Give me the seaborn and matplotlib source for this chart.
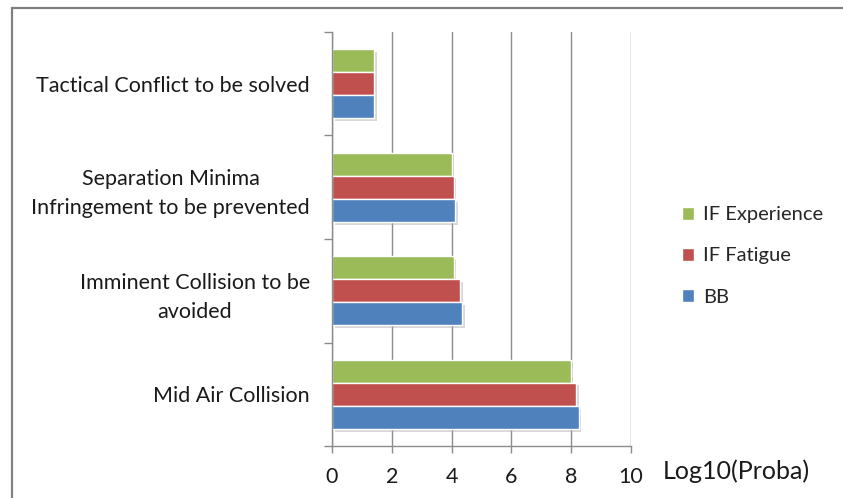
import matplotlib
matplotlib.use("Agg")
import matplotlib.pyplot as plt
import matplotlib.patheffects as pe
from matplotlib.patches import Rectangle
import seaborn as sns
import pandas as pd

categories = ["Tactical Conflict to be solved",
              "Separation Minima\nInfringement to be prevented",
              "Imminent Collision to be\navoided",
              "Mid Air Collision"]
series = ["IF Experience", "IF Fatigue", "BB"]
if_experience = [1.40, 4.00, 4.07, 7.98]
if_fatigue = [1.42, 4.07, 4.29, 8.16]
bb = [1.42, 4.13, 4.34, 8.25]
xticks = [0, 2, 4, 6, 8, 10]
colors = ["#9BBB59", "#C0504D", "#4F81BD"]

rows = []
for name, vals in zip(series, [if_experience, if_fatigue, bb]):
    for c, v in zip(categories, vals):
        rows.append({"cat": c, "series": name, "value": v})
df = pd.DataFrame(rows)

sns.set_style("white")
plt.rcParams['font.family'] = ['Lato', 'DejaVu Sans']

fig = plt.figure(figsize=(8.43, 4.98), dpi=100)
W, H = 843, 498
ax = fig.add_axes([332 / W, 1 - 446 / H, (631 - 332) / W, (446 - 32) / H])

sns.barplot(data=df, y="cat", x="value", hue="series", order=categories,
            hue_order=series, palette=colors, saturation=1, width=0.67, orient="h",
            edgecolor="white", linewidth=1.0, ax=ax, legend=True)

for p in ax.patches:
    p.set_path_effects([pe.SimplePatchShadow(offset=(2, -2), shadow_rgbFace="#aaaaaa", alpha=0.45), pe.Normal()])

ax.set_xlim(0, 10)
ax.set_ylim(3.5, -0.5)
ax.set_xticks(xticks)
ax.set_xticklabels([str(t) for t in xticks])
ax.set_xlabel("")
ax.set_ylabel("")
ax.grid(axis="x", color="#8c8c8c", linewidth=1.0)
ax.grid(axis="y", visible=False)
ax.set_axisbelow(True)
for s in ["top", "right"]:
    ax.spines[s].set_visible(False)
for s in ["left", "bottom"]:
    ax.spines[s].set_color("#8c8c8c")
    ax.spines[s].set_linewidth(1.0)

ax.tick_params(axis="x", direction="out", length=5, width=1, color="#8c8c8c",
               labelsize=15.5, pad=10, labelcolor="#1a1a1a", bottom=True)
ax.tick_params(axis="y", which="major", length=0, pad=16, labelsize=15.5,
               labelcolor="#1a1a1a")
ax.set_yticks([-0.5, 0.5, 1.5, 2.5, 3.5], minor=True)
ax.tick_params(axis="y", which="minor", length=6, width=1, color="#8c8c8c", left=True)
for t in ax.get_yticklabels():
    t.set_multialignment("center")
    t.set_linespacing(1.55)

leg = ax.get_legend()
handles = leg.legend_handles
labels = [t.get_text() for t in leg.get_texts()]
leg.remove()
fig.legend(handles, labels, loc="center left", bbox_to_anchor=(674 / W, 1 - 256 / H),
           frameon=False, fontsize=14.5, handlelength=0.6, handleheight=0.6,
           handletextpad=0.45, labelspacing=1.2, borderaxespad=0)

fig.text(663 / W, 1 - 471 / H, "Log10(Proba)", fontsize=18, va="center", ha="left",
         color="#1a1a1a")

fig.patches.append(Rectangle((12 / W, -0.1), 1.0, 1.1 - 8 / H, transform=fig.transFigure,
                             fill=False, edgecolor="#808080", linewidth=1.6, figure=fig))

fig.savefig("out.png", dpi=100)
